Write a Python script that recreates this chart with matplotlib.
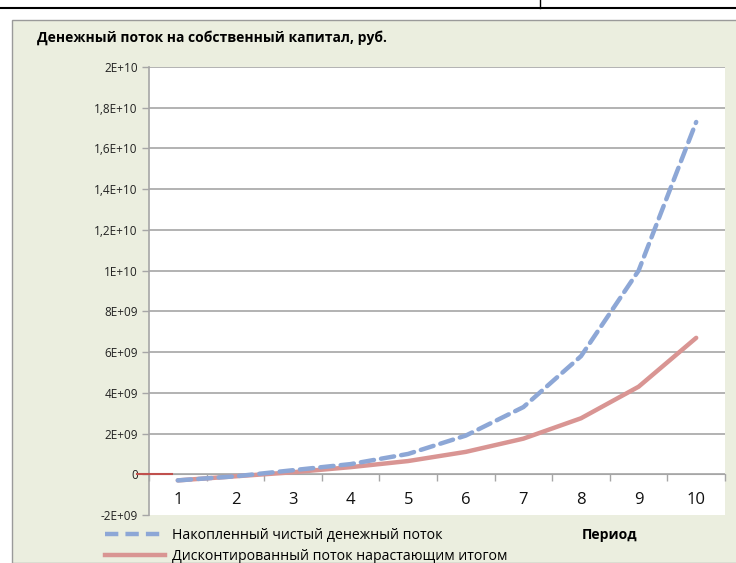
import matplotlib.pyplot as plt
from matplotlib.lines import Line2D

plt.rcParams['font.family'] = ['Open Sans', 'DejaVu Sans']

periods = [1, 2, 3, 4, 5, 6, 7, 8, 9, 10]
cumulative = [-0.3e9, -0.1e9, 0.2e9, 0.5e9, 1.0e9, 1.9e9, 3.3e9, 5.8e9, 10.0e9, 17.3e9]
discounted = [-0.3e9, -0.1e9, 0.1e9, 0.35e9, 0.65e9, 1.1e9, 1.75e9, 2.75e9, 4.3e9, 6.7e9]
ytick_vals = [-2e9, 0, 2e9, 4e9, 6e9, 8e9, 1e10, 1.2e10, 1.4e10, 1.6e10, 1.8e10, 2e10]
ytick_labels = ['-2E+09', '0', '2E+09', '4E+09', '6E+09', '8E+09', '1E+10',
                '1,2E+10', '1,4E+10', '1,6E+10', '1,8E+10', '2E+10']
zero_marker_x = [0.29, 0.9]

title = 'Денежный поток на собственный капитал, руб.'
name_cum = 'Накопленный чистый денежный поток'
name_disc = 'Дисконтированный поток нарастающим итогом'
xlabel = 'Период'

bg = '#EBEEDF'
blue = '#8DA7D6'
pink = '#D99593'
grid = '#A6A6A6'

fig = plt.figure(figsize=(7.36, 5.63), dpi=100)
fig.patch.set_facecolor('white')

# chart area background and frame
fig.add_artist(plt.Rectangle((12 / 736, 0), 1, 1 - 20 / 563, transform=fig.transFigure,
                             facecolor=bg, edgecolor='#9A9A9A', linewidth=1, zorder=-5))
# table border lines at top
fig.add_artist(Line2D([0, 1], [1 - 8 / 563, 1 - 8 / 563], transform=fig.transFigure, color='black', lw=1.5))
fig.add_artist(Line2D([540 / 736, 540 / 736], [1 - 8 / 563, 1], transform=fig.transFigure, color='black', lw=1))

ax = fig.add_axes([149 / 736, 1 - 515 / 563, 576 / 736, 448 / 563])
ax.set_facecolor('white')
ax.set_zorder(1)

ax.plot(periods, discounted, color=pink, lw=3.2, solid_capstyle='round', zorder=3)
ax.plot(periods, cumulative, color=blue, lw=3.2, linestyle=(0, (3, 1.6)), dash_capstyle='round', zorder=4)
ax.plot(zero_marker_x, [0, 0], color='#C0504D', lw=1.5, clip_on=False, zorder=5)

ax.set_xlim(0.5, 10.5)
ax.set_ylim(-2e9, 2e10)

ax.set_yticks(ytick_vals)
ax.set_yticklabels(ytick_labels, fontsize=8.5, color='#222222')
for v in ytick_vals[1:]:
    ax.axhline(v, color=grid, lw=1.2, zorder=1)

ax.set_xticks([p - 0.5 for p in periods] + [10.5])
ax.set_xticklabels([])
ax.tick_params(axis='x', direction='out', length=5, color=grid, width=1)
ax.tick_params(axis='y', direction='out', length=5, color=grid, width=1, pad=3)
for p in periods:
    ax.text(p, -1.25e9, str(p), ha='center', va='center', fontsize=12, color='#111111')

ax.spines['bottom'].set_position(('data', 0))
ax.spines['bottom'].set_color(grid)
ax.spines['left'].set_color(grid)
ax.spines['left'].set_linewidth(1.2)
ax.spines['top'].set_visible(False)
ax.spines['right'].set_visible(False)

fig.text(37 / 736, 1 - 38 / 563, title, fontsize=10, fontweight='bold', va='center', ha='left')
fig.text(582 / 736, 1 - 535 / 563, xlabel, fontsize=10, fontweight='bold', va='center', ha='left')

handles = [Line2D([], [], color=blue, lw=3.2, linestyle=(0, (3, 1.6))),
           Line2D([], [], color=pink, lw=3.2)]
fig.legend(handles, [name_cum, name_disc], loc='upper left',
           bbox_to_anchor=(105 / 736, 1 - 528 / 563), frameon=False, fontsize=10.2,
           handlelength=4.2, handletextpad=0.5, labelspacing=0.45, borderpad=0, borderaxespad=0)

fig.savefig('out.png', dpi=100, facecolor=fig.get_facecolor())
